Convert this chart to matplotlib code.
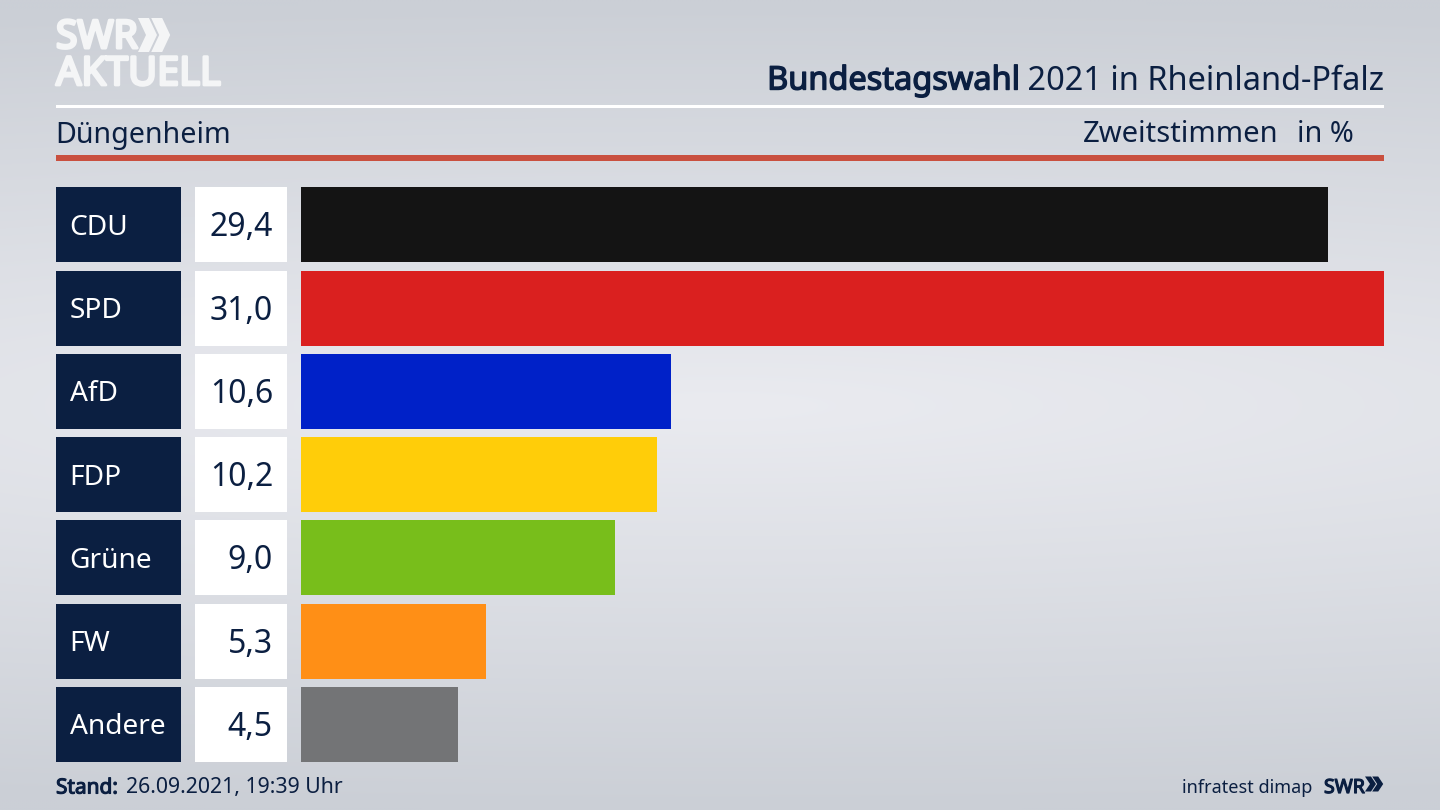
import numpy as np
import matplotlib
matplotlib.use("Agg")
import matplotlib.pyplot as plt
import matplotlib.patheffects as pe
from matplotlib.patches import Rectangle, Polygon
from matplotlib.transforms import blended_transform_factory

parties = ["CDU", "SPD", "AfD", "FDP", "Grüne", "FW", "Andere"]
values = [29.4, 31.0, 10.6, 10.2, 9.0, 5.3, 4.5]
value_labels = ["29,4", "31,0", "10,6", "10,2", "9,0", "5,3", "4,5"]
colors = ["#141414", "#DA201F", "#0021C8", "#FFCD09", "#78BE1B", "#FF8F16", "#737476"]

NAVY = "#0B1F41"
LOGO = "#F4F5F6"
FONT = "Noto Sans"
plt.rcParams["font.family"] = FONT
W, H = 1440, 810
fig = plt.figure(figsize=(W / 100, H / 100), dpi=100)

def heavy(txt, width, col):
    txt.set_path_effects([pe.withStroke(linewidth=width, foreground=col)])
    return txt

# background and furniture in pixel coordinates
bg = fig.add_axes([0, 0, 1, 1], zorder=0)
bg.set_xlim(0, W)
bg.set_ylim(H, 0)
bg.axis("off")
yy, xx = np.mgrid[0:H:4, 0:W:4]
r = np.sqrt(((xx - 720) / 3000.0) ** 2 + ((yy - 405) / 405.0) ** 2)
r = np.clip(r, 0, 1)[..., None]
c0 = np.array([0xEA, 0xEB, 0xF0]) / 255
c1 = np.array([0xCB, 0xCF, 0xD6]) / 255
bg.imshow(c0 + (c1 - c0) * r, extent=(0, W, H, 0), aspect="auto", interpolation="bilinear", zorder=0)
bg.set_xlim(0, W)
bg.set_ylim(H, 0)

bg.add_patch(Rectangle((56, 104.5), 1328, 3, color="white", lw=0, zorder=2))
bg.add_patch(Rectangle((56, 155), 1328, 5.5, color="#C9503F", lw=0, zorder=2))

# logo
heavy(bg.text(56, 38, "SWR", color=LOGO, fontsize=28, va="center", ha="left", zorder=3), 2.2, LOGO)
heavy(bg.text(56, 75, "AKTUELL", color=LOGO, fontsize=28.6, va="center", ha="left", zorder=3), 2.0, LOGO)

def chevrons(x, y, h, w, t, col):
    for dx in (0, t * 1.2):
        bg.add_patch(Polygon([(x + dx, y), (x + dx + t, y), (x + dx + t + w, y + h / 2),
                              (x + dx + t, y + h), (x + dx, y + h), (x + dx + w, y + h / 2)],
                             closed=True, color=col, lw=0, zorder=3))

chevrons(138, 18, 34, 8, 11, LOGO)
chevrons(1365, 776.5, 15, 5, 6, NAVY)

# header
t1 = bg.text(1384, 81, " 2021 in Rheinland-Pfalz", color=NAVY, fontsize=23.4, ha="right", va="center", zorder=3)
fig.canvas.draw()
bb = t1.get_window_extent()
heavy(bg.text(bb.x0 + 1, 81, "Bundestagswahl", color=NAVY, fontsize=23.4, ha="right", va="center", zorder=3),
      1.0, NAVY)
bg.text(55, 135, "Düngenheim", color=NAVY, fontsize=20.6, ha="left", va="center", zorder=3)
bg.text(1278.5, 135, "Zweitstimmen", color=NAVY, fontsize=21, ha="right", va="center", zorder=3)
bg.text(1354, 135, "in %", color=NAVY, fontsize=20.8, ha="right", va="center", zorder=3)

# footer
heavy(bg.text(56, 788, "Stand:", color=NAVY, fontsize=15, ha="left", va="center", zorder=3), 0.8, NAVY)
bg.text(126, 788, "26.09.2021, 19:39 Uhr", color=NAVY, fontsize=15.3, ha="left", va="center", zorder=3)
bg.text(1312, 788, "infratest dimap", color=NAVY, fontsize=13, ha="right", va="center", zorder=3)
heavy(bg.text(1324, 788, "SWR", color=NAVY, fontsize=14, ha="left", va="center", zorder=3), 0.9, NAVY)

# bars
ax = fig.add_axes([301 / W, 1 - 761.9 / H, (1384 - 301) / W, 574.5 / H], zorder=1)
ax.patch.set_alpha(0)
pos = np.arange(len(parties))
ax.barh(pos, values, height=0.9009, color=colors, linewidth=0)
ax.set_xlim(0, 31.0)
ax.set_ylim(6.4505, -0.4505)
ax.axis("off")

tr = blended_transform_factory(bg.transData, ax.transData)
for i, (p, lab) in enumerate(zip(parties, value_labels)):
    ax.add_patch(Rectangle((56, i - 0.4505), 125, 0.9009, transform=tr, color=NAVY, lw=0, clip_on=False))
    ax.add_patch(Rectangle((195, i - 0.4505), 92, 0.9009, transform=tr, color="white", lw=0, clip_on=False))
    ax.text(69.5, i + 0.036, p, transform=tr, color="white", fontsize=20.2, ha="left", va="center", clip_on=False)
    ax.text(273, i + 0.036, lab, transform=tr, color=NAVY, fontsize=23, ha="right", va="center", clip_on=False)

fig.savefig("out.png", dpi=100)
